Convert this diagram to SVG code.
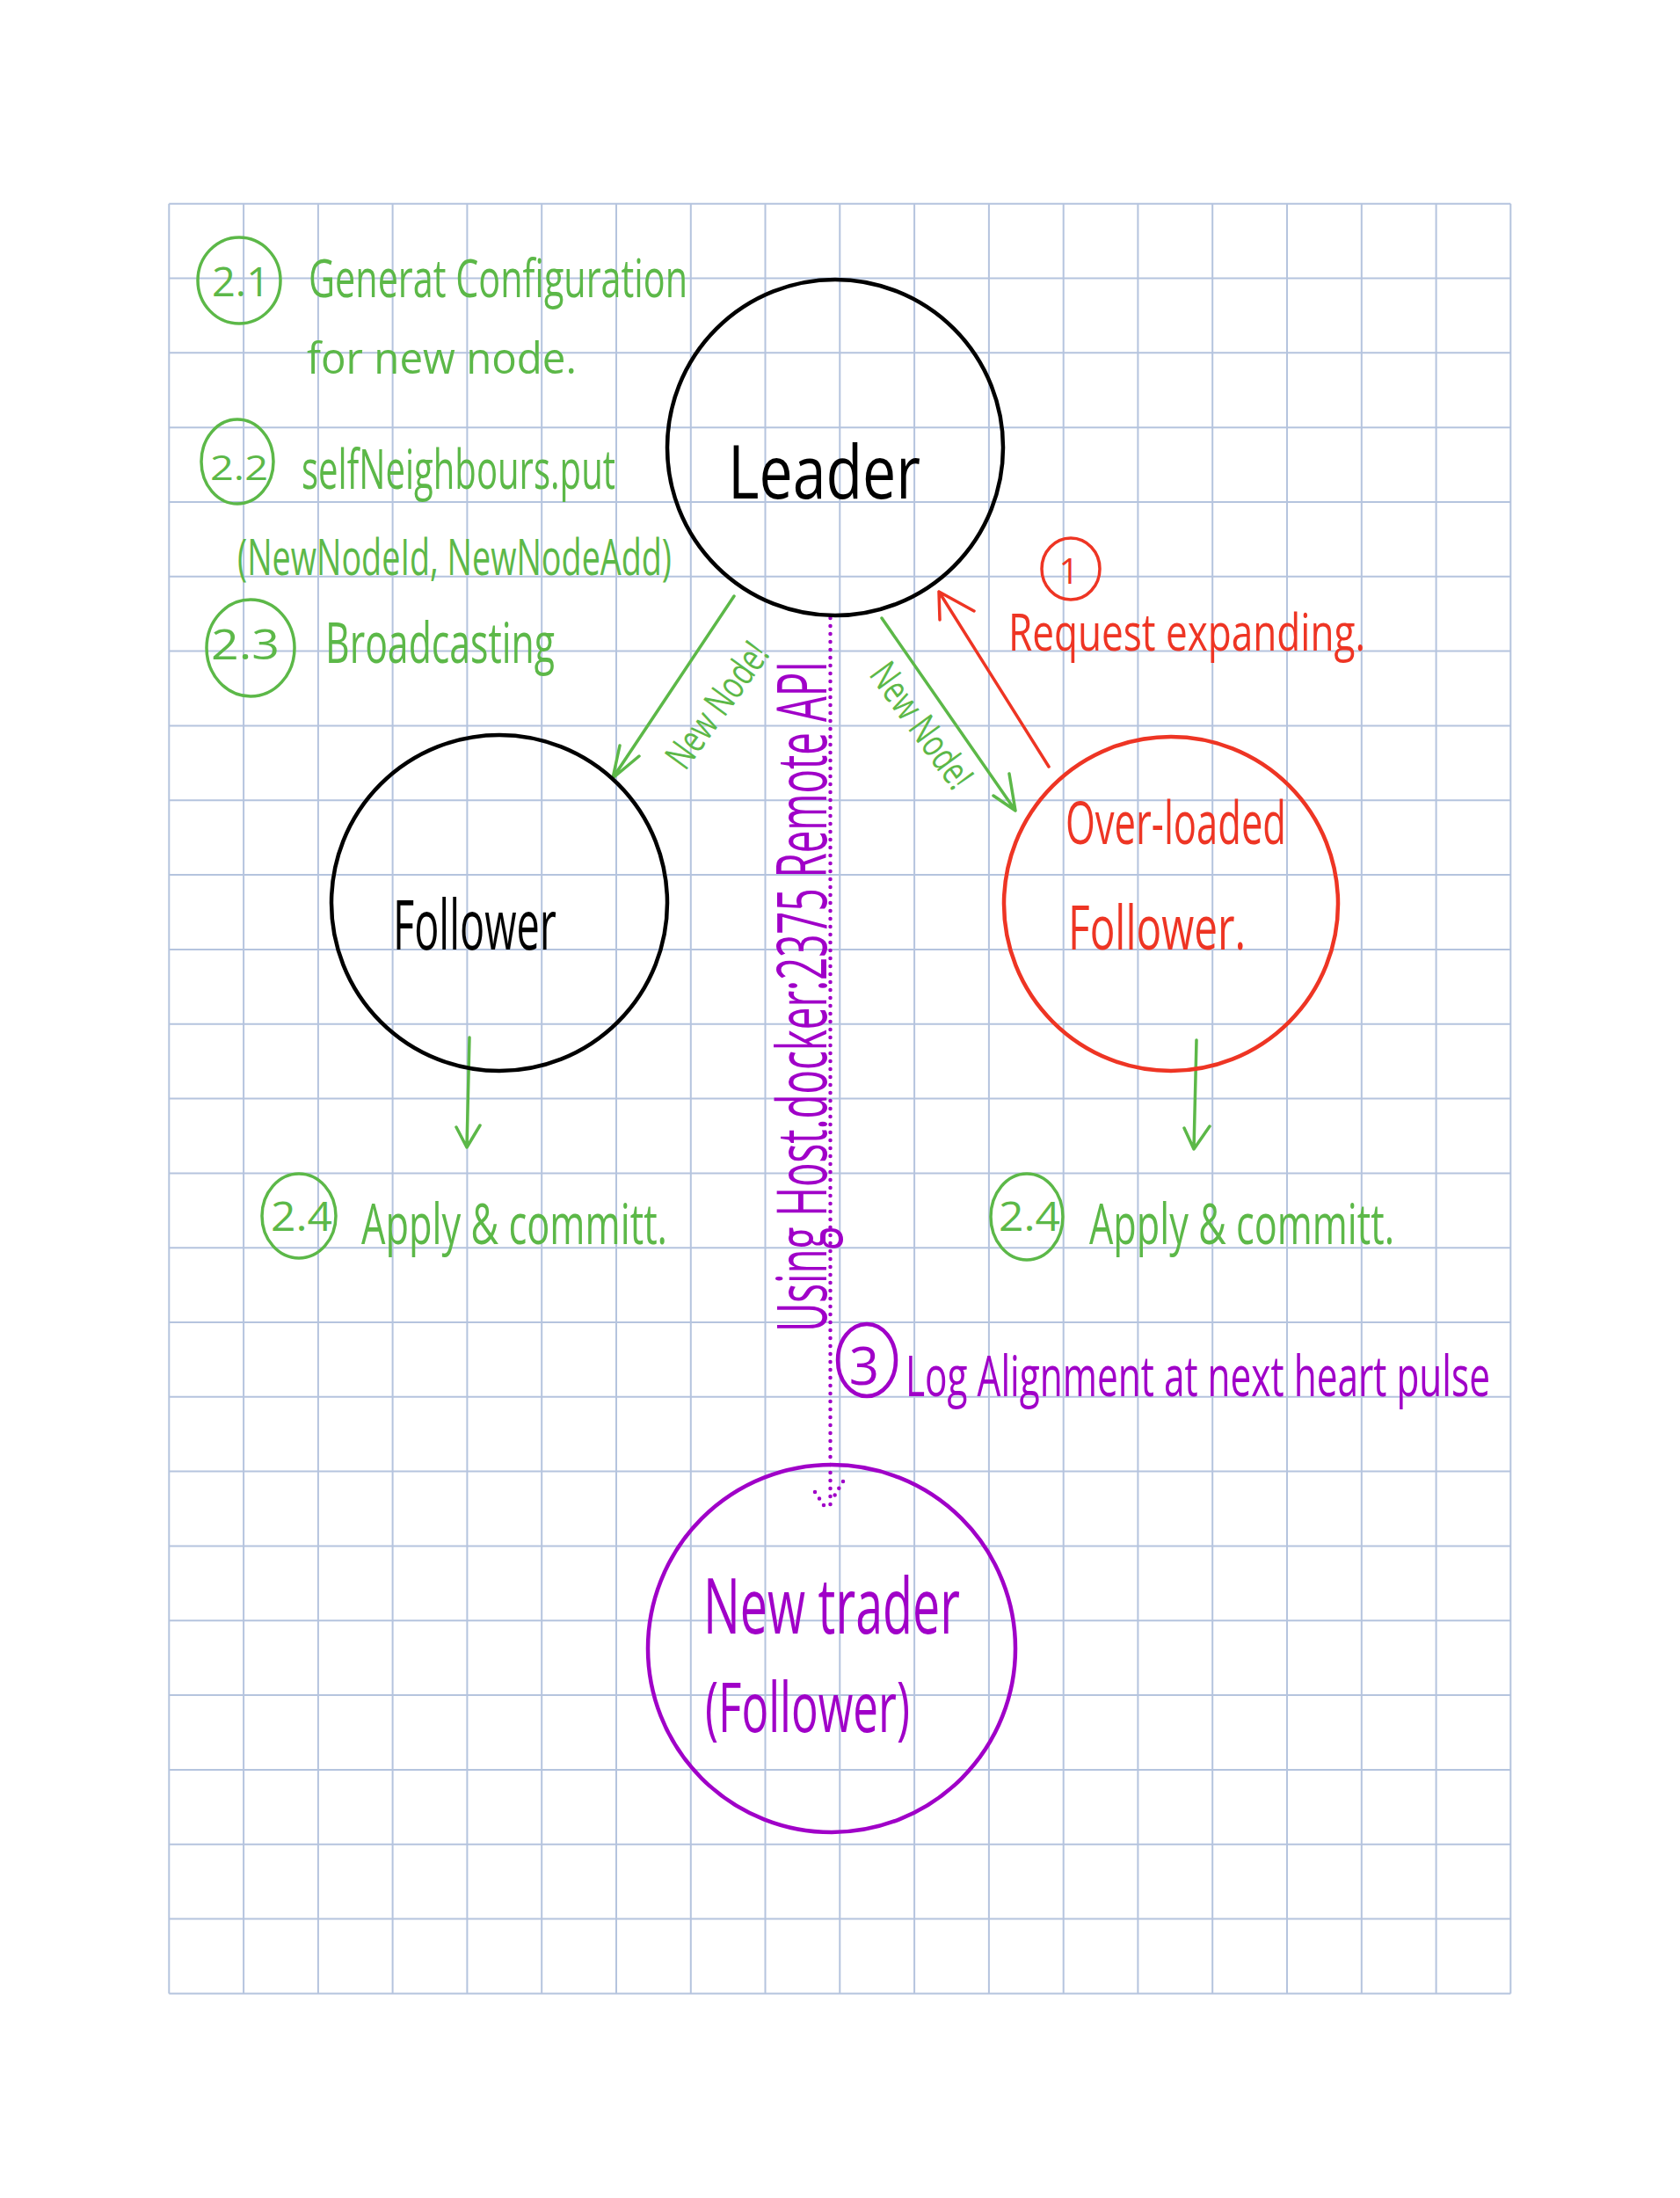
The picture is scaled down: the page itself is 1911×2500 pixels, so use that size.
<svg xmlns="http://www.w3.org/2000/svg" width="1911" height="2500" viewBox="0 0 1911 2500">
<style>
.grid{stroke:#b5c4de;stroke-width:2;fill:none}
.t{font-family:"Open Sans","Liberation Sans",sans-serif}
.g{fill:#5cb848}
.r{fill:#ee3524}
.p{fill:#a000c8}
.k{fill:#000}
.gs{stroke:#5cb848;stroke-width:3.5;fill:none;stroke-linecap:round;stroke-linejoin:round}
.rs{stroke:#ee3524;stroke-width:3.5;fill:none;stroke-linecap:round;stroke-linejoin:round}
.ps{stroke:#a000c8;stroke-width:4.5;fill:none;stroke-dasharray:0 9;stroke-linecap:round}
.node{fill:none;stroke-width:4.5}
</style>
<rect width="1911" height="2500" fill="#fff"/>
<g id="grid">
<path class="grid" d="M192.3 231.7V2267.4M277.1 231.7V2267.4M361.9 231.7V2267.4M446.6 231.7V2267.4M531.4 231.7V2267.4M616.2 231.7V2267.4M701 231.7V2267.4M785.8 231.7V2267.4M870.5 231.7V2267.4M955.3 231.7V2267.4M1040.1 231.7V2267.4M1124.9 231.7V2267.4M1209.7 231.7V2267.4M1294.4 231.7V2267.4M1379.2 231.7V2267.4M1464 231.7V2267.4M1548.8 231.7V2267.4M1633.6 231.7V2267.4M1718.3 231.7V2267.4"/>
<path class="grid" d="M192.3 231.7H1718.3M192.3 316.5H1718.3M192.3 401.3H1718.3M192.3 486.2H1718.3M192.3 571H1718.3M192.3 655.8H1718.3M192.3 740.6H1718.3M192.3 825.4H1718.3M192.3 910.3H1718.3M192.3 995.1H1718.3M192.3 1079.9H1718.3M192.3 1164.7H1718.3M192.3 1249.5H1718.3M192.3 1334.4H1718.3M192.3 1419.2H1718.3M192.3 1504H1718.3M192.3 1588.8H1718.3M192.3 1673.6H1718.3M192.3 1758.5H1718.3M192.3 1843.3H1718.3M192.3 1928.1H1718.3M192.3 2012.9H1718.3M192.3 2097.7H1718.3M192.3 2182.6H1718.3M192.3 2267.4H1718.3"/>
</g>

<g id="connectors">
<g id="edge-leader-follower">
<path class="gs" d="M835 678L697 885M705 848L697 885L727 860"/>
<text class="t g" font-size="44" text-anchor="middle" transform="translate(828 811) rotate(-54)" textLength="165" lengthAdjust="spacingAndGlyphs">New Node!</text>
</g>
<g id="edge-leader-overloaded">
<path class="gs" d="M1003 703L1155 922M1130 905L1155 922L1148 880"/>
<text class="t g" font-size="44" text-anchor="middle" transform="translate(1036 834) rotate(54)" textLength="165" lengthAdjust="spacingAndGlyphs">New Node!</text>
</g>
<g id="edge-overloaded-leader">
<path class="rs" d="M1193 872L1068 673M1108 695L1068 673L1069 705"/>
</g>
<g id="edge-follower-apply">
<path class="gs" d="M534 1180L531 1305M519 1282L531 1305L546 1280"/>
</g>
<g id="edge-overloaded-apply">
<path class="gs" d="M1361 1183L1358 1307M1347 1283L1358 1307L1376 1281"/>
</g>
<g id="edge-leader-newtrader">
<path class="ps" d="M944.5 703V1716M927 1697L941 1718M959 1685L945 1708"/>
<text class="t p" font-size="78" transform="translate(940 1515) rotate(-90)" textLength="763" lengthAdjust="spacingAndGlyphs">Using Host.docker:2375 Remote API</text>
</g>
</g>

<g id="leader">
<circle class="node" cx="950" cy="509" r="191" stroke="#000"/>
<text class="t k" x="828" y="567" font-size="84" textLength="219" lengthAdjust="spacingAndGlyphs">Leader</text>
</g>
<g id="follower">
<circle class="node" cx="568" cy="1027" r="191" stroke="#000"/>
<text class="t k" x="447" y="1080" font-size="78" textLength="186" lengthAdjust="spacingAndGlyphs">Follower</text>
</g>
<g id="overloaded-follower">
<circle class="node" cx="1332" cy="1028" r="190" stroke="#ee3524"/>
<text class="t r" x="1212" y="960" font-size="68" textLength="251" lengthAdjust="spacingAndGlyphs">Over-loaded</text>
<text class="t r" x="1215" y="1080" font-size="70" textLength="202" lengthAdjust="spacingAndGlyphs">Follower.</text>
</g>
<g id="new-trader">
<circle class="node" cx="946" cy="1875" r="209" stroke="#a000c8" stroke-width="5"/>
<text class="t p" x="800" y="1858" font-size="88" textLength="292" lengthAdjust="spacingAndGlyphs">New trader</text>
<text class="t p" x="802" y="1970" font-size="78" textLength="233" lengthAdjust="spacingAndGlyphs">(Follower)</text>
</g>

<g id="note-2-1">
<ellipse cx="272" cy="319" rx="47" ry="49" class="gs"/>
<text class="t g" x="274" y="337" font-size="46" text-anchor="middle" textLength="66" lengthAdjust="spacingAndGlyphs">2.1</text>
<text class="t g" x="351" y="338" font-size="60" textLength="431" lengthAdjust="spacingAndGlyphs">Generat Configuration</text>
<text class="t g" x="349" y="425" font-size="50" textLength="307" lengthAdjust="spacingAndGlyphs">for new node.</text>
</g>
<g id="note-2-2">
<ellipse cx="270" cy="525" rx="41" ry="48" class="gs"/>
<text class="t g" x="272" y="546" font-size="38" text-anchor="middle" textLength="66" lengthAdjust="spacingAndGlyphs">2.2</text>
<text class="t g" x="343" y="556" font-size="62" textLength="357" lengthAdjust="spacingAndGlyphs">selfNeighbours.put</text>
<text class="t g" x="270" y="654" font-size="56" textLength="494" lengthAdjust="spacingAndGlyphs">(NewNodeId, NewNodeAdd)</text>
</g>
<g id="note-2-3">
<ellipse cx="285" cy="737" rx="50" ry="55" class="gs"/>
<text class="t g" x="279" y="750" font-size="48" text-anchor="middle" textLength="78" lengthAdjust="spacingAndGlyphs">2.3</text>
<text class="t g" x="370" y="754" font-size="64" textLength="261" lengthAdjust="spacingAndGlyphs">Broadcasting</text>
</g>
<g id="note-1">
<ellipse cx="1218" cy="647" rx="33" ry="35" class="rs"/>
<text class="t r" x="1216" y="664" font-size="40" text-anchor="middle">1</text>
<text class="t r" x="1147" y="740" font-size="58" textLength="406" lengthAdjust="spacingAndGlyphs">Request expanding.</text>
</g>
<g id="note-2-4-left">
<ellipse cx="340" cy="1383" rx="42" ry="48" class="gs"/>
<text class="t g" x="343" y="1400" font-size="46" text-anchor="middle" textLength="70" lengthAdjust="spacingAndGlyphs">2.4</text>
<text class="t g" x="411" y="1415" font-size="64" textLength="348" lengthAdjust="spacingAndGlyphs">Apply &amp; committ.</text>
</g>
<g id="note-2-4-right">
<ellipse cx="1168" cy="1384" rx="41" ry="49" class="gs"/>
<text class="t g" x="1171" y="1400" font-size="46" text-anchor="middle" textLength="70" lengthAdjust="spacingAndGlyphs">2.4</text>
<text class="t g" x="1239" y="1415" font-size="64" textLength="347" lengthAdjust="spacingAndGlyphs">Apply &amp; committ.</text>
</g>
<g id="note-3">
<ellipse cx="986" cy="1547" rx="33" ry="41" stroke="#a000c8" stroke-width="4.5" fill="none"/>
<text class="t p" x="983" y="1575" font-size="60" text-anchor="middle">3</text>
<text class="t p" x="1030" y="1588" font-size="64" textLength="665" lengthAdjust="spacingAndGlyphs">Log Alignment at next heart pulse</text>
</g>
</svg>
